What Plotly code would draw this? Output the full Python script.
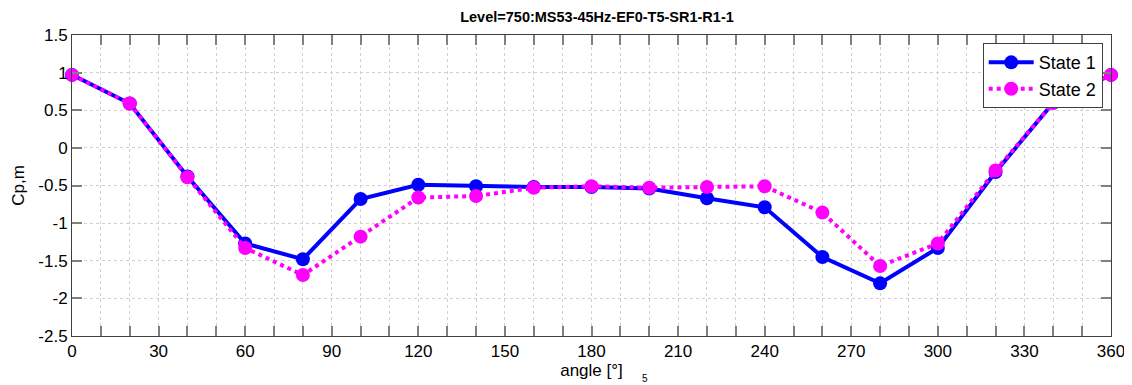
import plotly.graph_objects as go

angles = [0, 20, 40, 60, 80, 100, 120, 140, 160, 180, 200, 220, 240, 260, 280, 300, 320, 340, 360]
state1 = [0.97, 0.59, -0.38, -1.27, -1.48, -0.68, -0.49, -0.51, -0.52, -0.52, -0.54, -0.67, -0.79, -1.45, -1.80, -1.33, -0.32, 0.60, 0.97]
state2 = [0.97, 0.59, -0.39, -1.33, -1.69, -1.18, -0.66, -0.64, -0.53, -0.51, -0.53, -0.52, -0.51, -0.86, -1.57, -1.27, -0.30, 0.60, 0.97]
x_ticks = [0, 30, 60, 90, 120, 150, 180, 210, 240, 270, 300, 330, 360]
y_ticks = [-2.5, -2, -1.5, -1, -0.5, 0, 0.5, 1, 1.5]
y_labels = ["-2.5", "-2", "-1.5", "-1", "-0.5", "0", "0.5", "1", "1.5"]

FONT = "Liberation Sans, Arial, Helvetica, sans-serif"

# page has an 8px body margin, so the figure is drawn 8px in from the window edge
W, H = 1124, 377
L, R, T, B = 64, 21, 27, 49

fig = go.Figure()
fig.add_trace(go.Scatter(
    x=angles, y=state1, name="State 1", mode="lines+markers",
    line=dict(color="#0000ff", width=4),
    marker=dict(color="#0000ff", size=14),
    cliponaxis=False,
))
fig.add_trace(go.Scatter(
    x=angles, y=state2, name="State 2", mode="lines+markers",
    line=dict(color="#ff00ff", width=4, dash="dot"),
    marker=dict(color="#ff00ff", size=14),
    cliponaxis=False,
))

axis_common = dict(
    showline=True, linecolor="#404040", linewidth=1, mirror="ticks",
    ticks="inside", ticklen=10, tickcolor="#808080", tickwidth=1.5,
    showgrid=True, gridcolor="#d0d0d0", griddash="dot", gridwidth=1,
    zeroline=False, automargin=False,
    tickfont=dict(family=FONT, size=17, color="#000000"),
)

fig.update_layout(
    width=W, height=H,
    margin=dict(l=L, r=R, t=T, b=B),
    paper_bgcolor="white", plot_bgcolor="white",
    title=dict(text="<b>Level=750:MS53-45Hz-EF0-T5-SR1-R1-1</b>",
               x=(597 - 8) / W, xanchor="center",
               y=1 - (17 - 8) / H, yanchor="middle",
               font=dict(family=FONT, size=14.5, color="#000000")),
    xaxis=dict(
        range=[0, 360], tickvals=x_ticks, ticktext=[str(v) for v in x_ticks],
        minor=dict(dtick=10, tick0=0, ticks="inside", ticklen=10, tickcolor="#808080",
                   showgrid=True, gridcolor="#d0d0d0", griddash="dot"),
        title=dict(text="angle [°]", font=dict(family=FONT, size=17, color="#000000"), standoff=3),
        **axis_common,
    ),
    yaxis=dict(
        range=[-2.5, 1.5], tickvals=y_ticks, ticktext=y_labels,
        title=dict(text="Cp,m", font=dict(family=FONT, size=17, color="#000000"), standoff=9),
        **axis_common,
    ),
    legend=dict(
        x=0.992, y=0.973, xanchor="right", yanchor="top",
        bgcolor="white", bordercolor="#404040", borderwidth=1,
        font=dict(family=FONT, size=18, color="#000000"),
        tracegroupgap=0, itemwidth=45,
    ),
    showlegend=True,
)

fig.add_annotation(
    text="5", xref="paper", yref="paper", x=(645 - 8 - L) / (W - L - R), y=-(378 - 8 - (H - B)) / (H - T - B),
    showarrow=False, yanchor="middle", font=dict(family=FONT, size=10, color="#000000"),
)

fig.write_html("out.html")
